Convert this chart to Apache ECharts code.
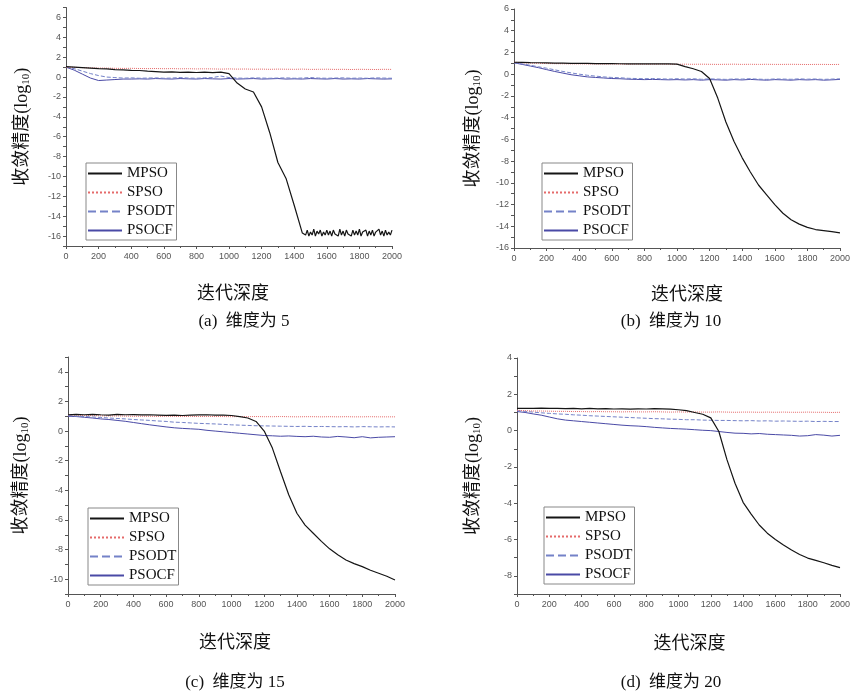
<!DOCTYPE html>
<html><head><meta charset="utf-8">
<script src="https://cdn.jsdelivr.net/npm/echarts@6/dist/echarts.min.js"></script>
<style>html,body{margin:0;padding:0;background:#fff}#c{width:853px;height:696px}</style>
</head><body><div id="c"></div>
<script>
// ---------- data ----------
const seriesNames = ['MPSO', 'SPSO', 'PSODT', 'PSOCF'];
const iters = [0,50,100,150,200,250,300,350,400,450,500,550,600,650,700,750,800,850,900,950,
  1000,1050,1100,1150,1200,1250,1300,1350,1400,1450,1500,1550,1600,1650,1700,1750,1800,1850,1900,1950,2000];
const xTicks = [0,200,400,600,800,1000,1200,1400,1600,1800,2000];

// (a) dimension 5
const mpsoA_head = [1.05,1.0,0.95,0.9,0.85,0.82,0.75,0.72,0.68,0.66,0.6,0.55,0.5,0.52,0.48,0.5,0.46,0.5,0.45,0.5,
  0.35,-0.6,-1.2,-1.5,-3.0,-5.6,-8.6,-10.2,-12.9,-15.7];
const mpsoA_tailIters = [1460,1470,1480,1490,1500,1510,1520,1530,1540,1550,
  1560,1570,1580,1590,1600,1610,1620,1630,1640,1650,
  1660,1670,1680,1690,1700,1710,1720,1730,1740,1750,
  1760,1770,1780,1790,1800,1810,1820,1830,1840,1850,
  1860,1870,1880,1890,1900,1910,1920,1930,1940,1950,
  1960,1970,1980,1990,2000];
const mpsoA_tail = [-15.5,-15.9,-15.4,-16.0,-15.6,-15.9,-15.3,-16.0,-15.5,-15.8,
  -15.4,-16.0,-15.6,-15.9,-15.4,-15.9,-15.5,-16.0,-15.4,-15.8,
  -15.6,-16.0,-15.3,-15.9,-15.5,-16.0,-15.4,-15.8,-15.6,-16.0,
  -15.4,-15.9,-15.5,-15.9,-15.3,-16.0,-15.6,-15.8,-15.4,-16.0,
  -15.5,-15.9,-15.4,-16.0,-15.6,-15.8,-15.3,-15.9,-15.5,-16.0,
  -15.4,-15.9,-15.6,-15.9,-15.4];
const spsoA = [1.0,0.98,0.95,0.93,0.9,0.9,0.88,0.87,0.88,0.86,0.85,0.86,0.84,0.85,0.83,0.84,0.82,0.83,0.82,0.8,
  0.82,0.8,0.81,0.79,0.8,0.78,0.8,0.79,0.78,0.8,0.77,0.78,0.79,0.77,0.78,0.76,0.78,0.77,0.76,0.78,0.77];
const psodtA = [1.0,0.85,0.6,0.35,0.15,0.0,-0.05,-0.1,-0.08,-0.12,-0.1,-0.08,-0.12,-0.1,-0.05,-0.1,-0.12,-0.08,-0.05,0.1,
  -0.05,-0.1,-0.12,-0.08,-0.1,-0.12,-0.1,-0.08,-0.12,-0.1,-0.05,-0.1,-0.12,-0.1,-0.08,-0.12,-0.1,-0.12,-0.08,-0.1,-0.12];
const psocfA = [1.0,0.7,0.3,-0.1,-0.35,-0.3,-0.25,-0.2,-0.2,-0.18,-0.2,-0.15,-0.18,-0.2,-0.15,-0.18,-0.2,-0.15,-0.18,-0.2,
  -0.15,-0.2,-0.18,-0.15,-0.2,-0.18,-0.15,-0.2,-0.18,-0.2,-0.15,-0.18,-0.2,-0.15,-0.2,-0.18,-0.2,-0.15,-0.18,-0.2,-0.18];

// (b) dimension 10
const mpsoB = [1.1,1.08,1.06,1.05,1.04,1.02,1.02,1.0,1.0,0.99,0.98,0.97,0.97,0.96,0.95,0.96,0.95,0.94,0.96,0.95,
  0.92,0.7,0.5,0.25,-0.4,-2.2,-4.4,-6.2,-7.7,-9.0,-10.2,-11.1,-12.0,-12.8,-13.4,-13.8,-14.1,-14.3,-14.4,-14.5,-14.6];
const spsoB = [1.1,1.05,1.02,1.0,0.98,0.97,0.96,0.95,0.95,0.94,0.94,0.93,0.94,0.93,0.92,0.93,0.92,0.92,0.93,0.92,
  0.91,0.92,0.91,0.92,0.91,0.9,0.91,0.92,0.9,0.91,0.9,0.91,0.9,0.9,0.91,0.9,0.89,0.9,0.9,0.89,0.9];
const psodtB = [1.05,0.95,0.82,0.68,0.55,0.4,0.25,0.12,0.0,-0.1,-0.18,-0.25,-0.3,-0.33,-0.38,-0.4,-0.42,-0.4,-0.43,-0.45,
  -0.42,-0.45,-0.42,-0.47,-0.43,-0.45,-0.48,-0.44,-0.45,-0.42,-0.46,-0.48,-0.44,-0.45,-0.47,-0.43,-0.46,-0.44,-0.48,-0.45,-0.43];
const psocfB = [1.05,0.9,0.75,0.6,0.42,0.25,0.1,-0.05,-0.15,-0.25,-0.3,-0.35,-0.4,-0.42,-0.46,-0.48,-0.5,-0.48,-0.5,-0.52,
  -0.5,-0.53,-0.5,-0.55,-0.5,-0.52,-0.55,-0.5,-0.53,-0.48,-0.52,-0.55,-0.5,-0.52,-0.55,-0.5,-0.53,-0.5,-0.55,-0.52,-0.48];

// (c) dimension 15
const mpsoC = [1.1,1.12,1.1,1.13,1.1,1.08,1.12,1.1,1.11,1.09,1.1,1.08,1.06,1.08,1.05,1.08,1.09,1.1,1.08,1.07,
  1.05,0.98,0.88,0.65,0.0,-1.15,-2.75,-4.3,-5.55,-6.35,-6.9,-7.45,-7.95,-8.35,-8.7,-8.95,-9.15,-9.4,-9.6,-9.8,-10.05];
const spsoC = [1.1,1.08,1.05,1.04,1.03,1.02,1.02,1.01,1.0,1.0,1.0,0.99,1.0,0.99,0.98,0.99,0.98,0.99,0.98,0.98,
  0.97,0.98,0.97,0.98,0.97,0.97,0.98,0.97,0.96,0.97,0.97,0.96,0.97,0.96,0.97,0.96,0.96,0.97,0.96,0.96,0.96];
const psodtC = [1.05,1.0,0.98,0.95,0.92,0.88,0.85,0.82,0.78,0.75,0.72,0.68,0.65,0.6,0.58,0.55,0.52,0.5,0.48,0.45,
  0.42,0.4,0.38,0.36,0.35,0.34,0.33,0.32,0.31,0.32,0.3,0.31,0.3,0.29,0.3,0.28,0.3,0.29,0.28,0.29,0.28];
const psocfC = [1.0,0.98,0.93,0.88,0.82,0.78,0.72,0.66,0.58,0.5,0.42,0.35,0.28,0.22,0.18,0.15,0.12,0.05,0.0,-0.05,
  -0.1,-0.15,-0.2,-0.25,-0.3,-0.32,-0.35,-0.33,-0.36,-0.38,-0.35,-0.4,-0.42,-0.36,-0.4,-0.45,-0.38,-0.46,-0.42,-0.4,-0.38];

// (d) dimension 20
const mpsoD = [1.22,1.23,1.22,1.24,1.22,1.23,1.21,1.22,1.2,1.22,1.2,1.21,1.19,1.2,1.18,1.2,1.19,1.21,1.2,1.18,
  1.15,1.1,1.0,0.9,0.7,-0.05,-1.6,-2.9,-3.95,-4.6,-5.2,-5.65,-6.0,-6.3,-6.58,-6.82,-7.02,-7.15,-7.28,-7.42,-7.55];
const spsoD = [1.12,1.1,1.08,1.08,1.07,1.06,1.06,1.05,1.05,1.04,1.05,1.04,1.04,1.03,1.04,1.03,1.03,1.04,1.03,1.02,
  1.03,1.02,1.03,1.02,1.02,1.03,1.02,1.01,1.02,1.02,1.01,1.02,1.01,1.02,1.01,1.01,1.02,1.01,1.01,1.0,1.01];
const psodtD = [1.1,1.06,1.02,0.98,0.95,0.92,0.9,0.87,0.85,0.82,0.8,0.78,0.76,0.74,0.72,0.7,0.68,0.66,0.65,0.63,
  0.62,0.6,0.6,0.58,0.57,0.56,0.56,0.55,0.54,0.55,0.53,0.54,0.52,0.53,0.52,0.51,0.52,0.5,0.51,0.5,0.5];
const psocfD = [1.05,1.0,0.92,0.85,0.75,0.65,0.58,0.54,0.5,0.46,0.42,0.38,0.34,0.3,0.27,0.25,0.22,0.18,0.15,0.12,
  0.1,0.08,0.05,0.02,0.0,-0.05,-0.1,-0.14,-0.15,-0.18,-0.16,-0.2,-0.22,-0.24,-0.26,-0.3,-0.28,-0.22,-0.25,-0.3,-0.26];

const captions = ['(a)  维度为 5', '(b)  维度为 10', '(c)  维度为 15', '(d)  维度为 20'];
const xAxisTitle = '迭代深度';

// ---------- helpers ----------
const pairs = (xs, ys) => xs.map((x, k) => [x, ys[k]]);
const mpsoA = pairs(iters.slice(0, mpsoA_head.length), mpsoA_head).concat(pairs(mpsoA_tailIters, mpsoA_tail));

const panels = [
  { grid: {left: 66, top: 7.5, width: 326, height: 238.5}, yMin: -17, yMax: 7,
    lines: [mpsoA, pairs(iters, spsoA), pairs(iters, psodtA), pairs(iters, psocfA)],
    legend: {left: 86, top: 163}, yGap: 34, xGap: 37, xPad: 8, cap: [244, 322] },
  { grid: {left: 514, top: 9, width: 328, height: 239}, yMin: -16, yMax: 6,
    lines: [pairs(iters, mpsoB), pairs(iters, spsoB), pairs(iters, psodtB), pairs(iters, psocfB)],
    legend: {left: 542, top: 163}, yGap: 31, xGap: 36, xPad: 20, cap: [671, 322] },
  { grid: {left: 68, top: 357, width: 327, height: 237}, yMin: -11, yMax: 5,
    lines: [pairs(iters, mpsoC), pairs(iters, spsoC), pairs(iters, psodtC), pairs(iters, psocfC)],
    legend: {left: 88, top: 508}, yGap: 37, xGap: 38, xPad: 7, cap: [235, 683] },
  { grid: {left: 517, top: 358, width: 327, height: 236}, yMin: -9, yMax: 4,
    lines: [pairs(iters, mpsoD), pairs(iters, spsoD), pairs(iters, psodtD), pairs(iters, psocfD)],
    legend: {left: 544, top: 507}, yGap: 34, xGap: 39, xPad: 22, cap: [671, 683] }
];

const styles = [
  {color: '#151515', width: 1.2, type: 'solid'},
  {color: '#e56a6a', width: 1, type: 'dotted'},
  {color: '#7482c8', width: 1, type: 'dashed'},
  {color: '#4a4aa6', width: 1, type: 'solid'}
];

const axisColor = '#555';
const grids = [], xAxes = [], yAxes = [], series = [], legends = [], graphics = [];

panels.forEach((p, i) => {
  grids.push(Object.assign({containLabel: false}, p.grid));
  xAxes.push({
    gridIndex: i, type: 'value', min: xTicks[0], max: xTicks[xTicks.length - 1], interval: 200,
    axisLine: {show: true, onZero: false, lineStyle: {color: axisColor, width: 1}},
    axisTick: {show: true, length: 3, lineStyle: {color: axisColor}},
    minorTick: {show: true, splitNumber: 2, length: 2, lineStyle: {color: axisColor}},
    axisLabel: {fontSize: 9, color: '#555', margin: 6, fontFamily: 'Liberation Sans', formatter: v => String(v)},
    splitLine: {show: false},
    name: xAxisTitle, nameLocation: 'middle', nameGap: p.xGap,
    nameTextStyle: {fontSize: 18, color: '#111', fontFamily: '"Noto Sans CJK SC"', padding: [0, 0, 0, p.xPad]}
  });
  yAxes.push({
    gridIndex: i, type: 'value', min: p.yMin, max: p.yMax, interval: 1,
    axisLine: {show: true, onZero: false, lineStyle: {color: axisColor, width: 1}},
    axisTick: {show: true, length: 3, lineStyle: {color: axisColor}},
    axisLabel: {fontSize: 9, color: '#555', margin: 5, fontFamily: 'Liberation Sans',
      formatter: v => (Math.round(v) % 2 === 0 ? String(v) : '')},
    splitLine: {show: false},
    name: '收敛精度(log{sub|10})', nameLocation: 'middle', nameGap: p.yGap, nameRotate: 90,
    nameTextStyle: {fontSize: 18, color: '#111', fontFamily: '"Liberation Serif", "Noto Sans CJK SC"',
      rich: {sub: {fontSize: 11, color: '#111', fontFamily: '"Liberation Serif"', verticalAlign: 'bottom', padding: [9, 0, 0, 0]}}}
  });
  p.lines.forEach((d, k) => {
    series.push({
      name: seriesNames[k], type: 'line', xAxisIndex: i, yAxisIndex: i,
      data: d, symbol: 'none', showSymbol: false, animation: false,
      z: 10 - k,
      itemStyle: {color: styles[k].color},
      lineStyle: {color: styles[k].color, width: styles[k].width, type: styles[k].type}
    });
  });
  legends.push({
    left: p.legend.left, top: p.legend.top, orient: 'vertical', data: seriesNames,
    itemWidth: 34, itemHeight: 10, itemGap: 4, padding: [3, 2, 2, 1],
    borderColor: '#888', borderWidth: 1, backgroundColor: '#fff',
    itemStyle: {opacity: 0},
    textStyle: {fontSize: 15, color: '#111', fontFamily: '"Liberation Serif"'}
  });
  graphics.push({
    type: 'text', x: p.cap[0], y: p.cap[1],
    style: {text: captions[i], align: 'center', verticalAlign: 'middle',
      font: '17px "Liberation Serif", "Noto Sans CJK SC"', fill: '#111'}
  });
});

const chart = echarts.init(document.getElementById('c'), null, {renderer: 'canvas'});
chart.setOption({
  backgroundColor: '#fff',
  animation: false,
  grid: grids, xAxis: xAxes, yAxis: yAxes, series: series, legend: legends,
  graphic: graphics
});
</script>
</body></html>
